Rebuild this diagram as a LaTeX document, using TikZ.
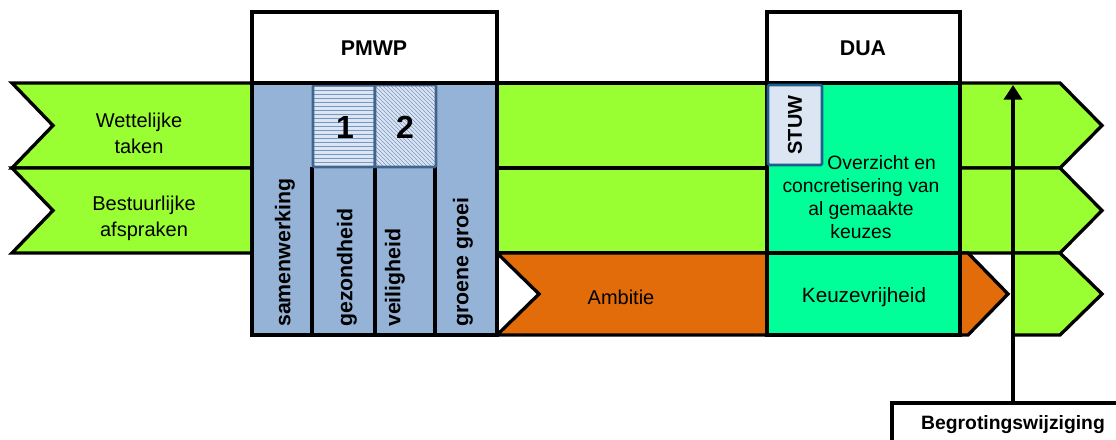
\documentclass[tikz,border=0pt]{standalone}
\usepackage{fontspec}
\setmainfont{Liberation Sans}
\usepackage{tikz}
\usetikzlibrary{arrows.meta}
\usetikzlibrary{patterns}
\definecolor{taakgroen}{RGB}{153,255,51}
\definecolor{pmwpblauw}{RGB}{149,179,215}
\definecolor{duagroen}{RGB}{0,255,153}
\definecolor{ambitieoranje}{RGB}{226,107,10}
\definecolor{hatchbg}{RGB}{220,230,242}
\definecolor{hatchlijn}{RGB}{120,150,195}
\definecolor{hatchrand}{RGB}{65,100,143}
\definecolor{stuwrand}{RGB}{31,95,143}

\tikzset{
  band/.style={draw=black, line width=2.5pt},
  hatchbox/.style={draw=hatchrand, line width=2pt, rounded corners=1pt, preaction={fill=hatchbg}, pattern color=hatchlijn},
  lbl/.style={font=\fontsize{15}{19.5}\selectfont, align=center, inner sep=0pt},
  kop/.style={font=\bfseries\fontsize{16}{19}\selectfont, inner sep=0pt},
  vlbl/.style={rotate=90, anchor=west, font=\bfseries\fontsize{16}{19}\selectfont, inner sep=0pt},
  nummer/.style={font=\bfseries\fontsize{24}{28}\selectfont, inner sep=0pt},
  pijl/.style={line width=3pt, -{Triangle[width=13.5pt,length=11pt]}}
}

\begin{document}
\begin{tikzpicture}[x=0.75pt,y=-0.75pt]
  \useasboundingbox (0,0) rectangle (1116,439);
  \foreach \t/\b in {83/168,168/253}
  {
    \draw[band, fill=taakgroen] (12,\t) -- (252,\t) -- (252,\b) -- (12,\b) -- (53,{(\t+\b)/2}) -- cycle;
    \draw[band, fill=taakgroen] (497,\t) rectangle (767,\b);
    \draw[band, fill=taakgroen] (960,\t) -- (1060,\t) -- (1102,{(\t+\b)/2}) -- (1060,\b) -- (960,\b) -- cycle;
  }
  \fill[taakgroen] (1013,253) -- (1060,253) -- (1102,294) -- (1060,335) -- (1013,335) -- cycle;
  \draw[band] (1013,253) -- (1060,253) -- (1102,294) -- (1060,335) -- (1013,335);
  \draw[band, fill=ambitieoranje] (497,253) -- (968,253) -- (1008,294) -- (968,335) -- (497,335) -- (539,294) -- cycle;
  \draw[band, fill=duagroen] (767,83) rectangle (960,253);
  \draw[band, fill=duagroen] (767,253) rectangle (960,335);
  \draw[band, fill=pmwpblauw] (252,83) rectangle (497,335);
  \foreach \x in {312,375,435}
    \draw[band] (\x,167) -- (\x,335);
  \draw[hatchbox, pattern=horizontal lines] (313,85) rectangle (375,167);
  \draw[hatchbox, pattern=north west lines] (375,85) rectangle (436,167);
  \draw[band, fill=white] (252,12) rectangle (497,83);
  \draw[band, fill=white] (767,12) rectangle (960,83);
  \draw[draw=stuwrand, line width=2pt, fill=hatchbg, rounded corners=1pt] (768,85) rectangle (822,165);

  \node[lbl] (taken) at (139,133) {Wettelijke\\taken};
  \node[lbl] (afspraken) at (144,218) {Bestuurlijke\\afspraken};
  \node[kop] (pmwp) at (374,48) {PMWP};
  \node[kop] (dua) at (863,48) {DUA};
  \node[nummer] (een) at (345,127) {1};
  \node[nummer] (twee) at (405,127) {2};
  \node[vlbl] (samen) at (285,327) {samenwerking};
  \node[vlbl] (gezond) at (347,327) {gezondheid};
  \node[vlbl] (veilig) at (395,327) {veiligheid};
  \node[vlbl] (groei) at (463,327) {groene groei};
  \node[kop, rotate=90, font=\bfseries\fontsize{15}{18}\selectfont] (stuw) at (795,125) {STUW};
  \node[lbl, font=\fontsize{14.5}{17.25}\selectfont] (overzicht) at (861,197)
    {\hspace*{31pt}Overzicht en\\concretisering van\\al gemaakte\\keuzes};
  \node[lbl] (ambitie) at (621,297) {Ambitie};
  \node[lbl, font=\fontsize{15.5}{19}\selectfont] (keuze) at (864,297) {Keuzevrijheid};

  \node[draw, line width=2.5pt, fill=white, minimum width=181.5pt, minimum height=33pt,
    font=\bfseries\fontsize{14.5}{17}\selectfont, inner sep=0pt] (bw) at (1013,425) {Begrotingswijziging};
  \coordinate (pijltop) at (1013,85);
  \draw[pijl] (bw.north) -- (pijltop);
\end{tikzpicture}
\end{document}
